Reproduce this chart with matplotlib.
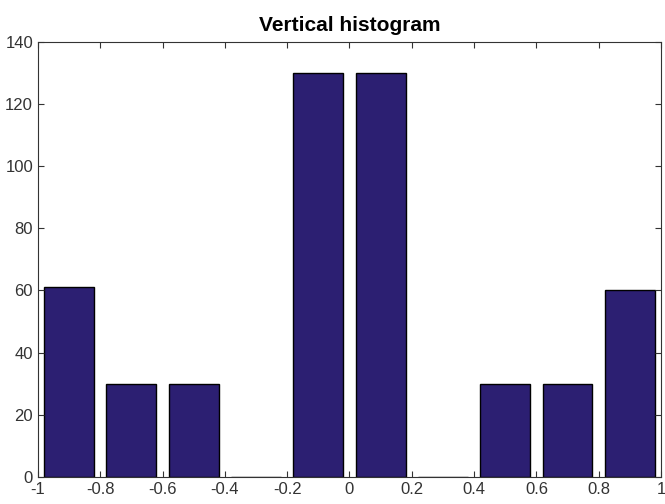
import matplotlib.pyplot as plt
import numpy as np

# histogram data (10 bins on [-1, 1])
bin_centers = [-0.9, -0.7, -0.5, -0.3, -0.1, 0.1, 0.3, 0.5, 0.7, 0.9]
counts = [61, 30, 30, 0, 130, 130, 0, 30, 30, 60]
xticks = [-1, -0.8, -0.6, -0.4, -0.2, 0, 0.2, 0.4, 0.6, 0.8, 1]
xtick_labels = ['-1', '-0.8', '-0.6', '-0.4', '-0.2', '0', '0.2', '0.4', '0.6', '0.8', '1']
yticks = [0, 20, 40, 60, 80, 100, 120, 140]

plt.rcParams['font.family'] = ['Liberation Sans Narrow', 'Liberation Sans', 'DejaVu Sans']

fig = plt.figure(figsize=(6.65, 5.04), dpi=100)
ax = fig.add_axes([0.057, 0.054, 0.937, 0.863])

ax.bar(bin_centers, counts, width=0.16, color='#2c1f72', edgecolor='black', linewidth=1.0)

ax.set_xlim(-1, 1)
ax.set_ylim(0, 140)
ax.set_xticks(xticks)
ax.set_xticklabels(xtick_labels)
ax.set_yticks(yticks)
ax.tick_params(direction='in', top=True, right=True, length=4, labelsize=12,
               colors='#333333', labelcolor='#333333')
for s in ax.spines.values():
    s.set_color('#333333')

ax.set_title('Vertical histogram', fontsize=15, fontweight='bold', pad=8)

plt.savefig('out.png', dpi=100)
